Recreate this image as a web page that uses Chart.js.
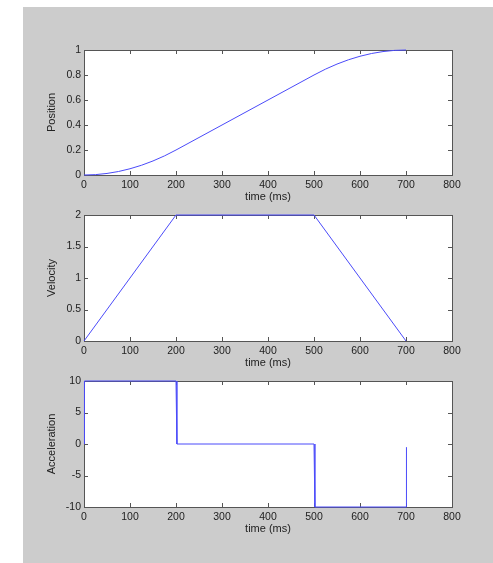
<!DOCTYPE html>
<html>
<head>
<meta charset="utf-8">
<script src="https://cdn.jsdelivr.net/npm/chart.js@4.4.1/dist/chart.umd.min.js"></script>
<style>
    body { margin: 0; background: #fff; width: 493px; height: 563px; overflow: hidden; position: relative; }
    #panel { position: absolute; left: 23px; top: 7px; right: 0; bottom: 0; background: #cccccc; }
    canvas { position: absolute; left: 23px; }
</style>
</head>
<body>
<div id="panel"></div>
<canvas id="position" width="470" height="170" style="top:35px"></canvas>
<canvas id="velocity" width="470" height="171" style="top:200px"></canvas>
<canvas id="acceleration" width="470" height="171" style="top:366px"></canvas>
<script>
// values (time in ms)
const timeTicks = [0, 100, 200, 300, 400, 500, 600, 700, 800]

const positionTime = [0, 25, 50, 75, 100, 125, 150, 175, 200, 250, 300, 350, 400, 450, 500, 525, 550, 575, 600, 625, 650, 675, 700]
const positionValues = [0, 0.003, 0.0125, 0.028, 0.05, 0.078, 0.1125, 0.153, 0.2, 0.3, 0.4, 0.5, 0.6, 0.7, 0.8, 0.847, 0.8875, 0.922, 0.95, 0.972, 0.9875, 0.997, 1]
const positionTicks = [0, 0.2, 0.4, 0.6, 0.8, 1]

const velocityTime = [0, 200, 500, 700]
const velocityValues = [0, 2, 2, 0]
const velocityTicks = [0, 0.5, 1, 1.5, 2]

const accelTime = [0, 1, 200, 202, 500, 502, 700, 701]
const accelValues = [0, 10, 10, 0, 0, -10, -10, -0.5]
const accelTicks = [-10, -5, 0, 5, 10]

const lineColor = 'rgb(75, 75, 250)'
const textColor = '#222'
const fontFamily = '"Liberation Sans", Arial, sans-serif'

// white axes box with inward ticks on all four sides, like matlab
const matlabBox = {
    id: 'matlabBox',
    beforeDatasetsDraw(chart) {
        const a = chart.chartArea
        const ctx = chart.ctx
        const len = 4
        ctx.save()
        ctx.fillStyle = '#fff'
        ctx.fillRect(a.left, a.top, a.right - a.left, a.bottom - a.top)
        ctx.strokeStyle = '#555'
        ctx.lineWidth = 1
        ctx.beginPath()
        chart.scales.x.ticks.forEach(t => {
            const px = Math.round(chart.scales.x.getPixelForValue(t.value)) + 0.5
            ctx.moveTo(px, a.bottom); ctx.lineTo(px, a.bottom - len)
            ctx.moveTo(px, a.top); ctx.lineTo(px, a.top + len)
        })
        chart.scales.y.ticks.forEach(t => {
            const py = Math.round(chart.scales.y.getPixelForValue(t.value)) + 0.5
            ctx.moveTo(a.left, py); ctx.lineTo(a.left + len, py)
            ctx.moveTo(a.right, py); ctx.lineTo(a.right - len, py)
        })
        ctx.stroke()
        ctx.strokeRect(Math.round(a.left) + 0.5, Math.round(a.top) + 0.5, Math.round(a.right - a.left), Math.round(a.bottom - a.top))
        ctx.restore()
    }
}

function makeChart(id, xs, ys, yTicks, yLabel) {
    const points = xs.map((x, i) => ({ x: x, y: ys[i] }))
    return new Chart(document.getElementById(id), {
        type: 'line',
        data: {
            datasets: [{
                data: points,
                borderColor: lineColor,
                borderWidth: 1,
                pointRadius: 0,
                tension: 0,
                fill: false,
                clip: false
            }]
        },
        options: {
            responsive: false,
            animation: false,
            layout: { padding: { top: 15, right: 41, left: 0, bottom: 0 } },
            plugins: { legend: { display: false }, tooltip: { enabled: false } },
            scales: {
                x: {
                    type: 'linear',
                    min: 0,
                    max: 800,
                    afterBuildTicks: s => { s.ticks = timeTicks.map(v => ({ value: v })) },
                    afterFit: s => { s.height = 30 },
                    grid: { display: false, drawTicks: false },
                    border: { display: false },
                    ticks: { color: textColor, padding: 4, maxRotation: 0, callback: v => String(v), font: { family: fontFamily, size: 10.5 } },
                    title: { display: true, text: 'time (ms)', color: textColor, padding: { top: 0, bottom: 1 }, font: { family: fontFamily, size: 11 } }
                },
                y: {
                    type: 'linear',
                    min: yTicks[0],
                    max: yTicks[yTicks.length - 1],
                    afterBuildTicks: s => { s.ticks = yTicks.map(v => ({ value: v })) },
                    afterFit: s => { s.width = 61 },
                    grid: { display: false, drawTicks: false },
                    border: { display: false },
                    ticks: { color: textColor, padding: 3, callback: v => String(v), font: { family: fontFamily, size: 10.5 } },
                    title: { display: true, text: yLabel, color: textColor, padding: { top: 22, bottom: 0 }, font: { family: fontFamily, size: 11 } }
                }
            }
        },
        plugins: [matlabBox]
    })
}

makeChart('position', positionTime, positionValues, positionTicks, 'Position')
makeChart('velocity', velocityTime, velocityValues, velocityTicks, 'Velocity')
makeChart('acceleration', accelTime, accelValues, accelTicks, 'Acceleration')
</script>
</body>
</html>
